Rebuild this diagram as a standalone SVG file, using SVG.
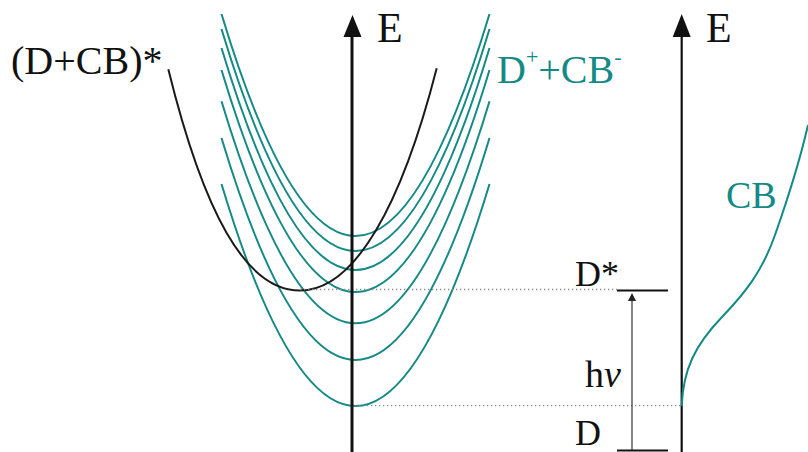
<svg xmlns="http://www.w3.org/2000/svg" width="808" height="452" viewBox="0 0 808 452">
  <defs>
    <style>
      .teal { fill: none; stroke: #148a86; stroke-width: 2; }
      .black { fill: none; stroke: #1a1a1a; stroke-width: 2; }
      .axis { stroke: #111; fill: none; }
      .dot { stroke: #8a8a8a; stroke-width: 1.3; stroke-dasharray: 1.3 2.7; fill: none; }
      .lbl { font-family: "Liberation Serif", "Times New Roman", serif; fill: #111; }
      .tl { font-family: "Liberation Serif", "Times New Roman", serif; fill: #148a86; }
    </style>
  </defs>
  <rect width="808" height="452" fill="#ffffff"/>

  <g id="teal-parabolas">
    <path class="teal" d="M221.5,14 Q355.5,458 489.5,14"/>
    <path class="teal" d="M221.5,29 Q355.5,473 489.5,29"/>
    <path class="teal" d="M221.5,48 Q355.5,492 489.5,48"/>
    <path class="teal" d="M221.5,70 Q355.5,514 489.5,70"/>
    <path class="teal" d="M221.5,101.3 Q355.5,545.3 489.5,101.3"/>
    <path class="teal" d="M221.5,138 Q355.5,582 489.5,138"/>
    <path class="teal" d="M221.5,184 Q355.5,628 489.5,184"/>
  </g>

  <g id="excited-curve">
    <path class="black" d="M168.3,69.3 C203.3,211 245,290.5 300,290.5 C355,290.5 401.7,204.8 436.7,68.3"/>
  </g>

  <g id="connectors">
    <line class="dot" x1="300" y1="289.5" x2="617" y2="289.5"/>
    <line class="dot" x1="355" y1="405.7" x2="681" y2="405.7"/>
    <line x1="632" y1="451" x2="632" y2="299" stroke="#333" stroke-width="1.2"/>
    <polygon points="632,293 628,301 636,301" fill="#222"/>
  </g>

  <g id="axis-left">
    <line class="axis" x1="352" y1="452" x2="352" y2="35" stroke-width="3"/>
    <polygon points="352.5,15 343.5,37 361.5,37" fill="#111"/>
    <text class="lbl" x="377" y="42" font-size="42">E</text>
  </g>

  <g id="axis-right">
    <line class="axis" x1="681.7" y1="452" x2="681.7" y2="35" stroke-width="2.2"/>
    <polygon points="681.7,14 672.7,37 690.7,37" fill="#111"/>
    <text class="lbl" x="706" y="42" font-size="42">E</text>
  </g>

  <g id="cb-band">
    <path class="teal" d="M681.7,406 C683,370 695,345 722,317 C745,293 762,272 775,235 C788,198 800,160 808,125"/>
    <text class="tl" x="726" y="208" font-size="38">CB</text>
  </g>

  <g id="label-excited">
    <text class="lbl" x="11" y="74" font-size="40">(D+CB)*</text>
  </g>

  <g id="label-ct">
    <text class="tl" x="497" y="83" font-size="40">D<tspan font-size="22" dy="-19">+</tspan><tspan dy="19">+CB</tspan><tspan font-size="22" dy="-19">-</tspan></text>
  </g>

  <g id="level-dstar">
    <line x1="617" y1="290.5" x2="668" y2="290.5" stroke="#111" stroke-width="2"/>
    <text class="lbl" x="619" y="286" font-size="36" text-anchor="end">D*</text>
  </g>

  <g id="level-d">
    <line x1="617" y1="450.5" x2="668" y2="450.5" stroke="#111" stroke-width="2"/>
    <text class="lbl" x="601" y="445" font-size="36" text-anchor="end">D</text>
  </g>

  <g id="label-hnu">
    <text class="lbl" x="585" y="387" font-size="38">h<tspan font-style="italic">ν</tspan></text>
  </g>
</svg>
